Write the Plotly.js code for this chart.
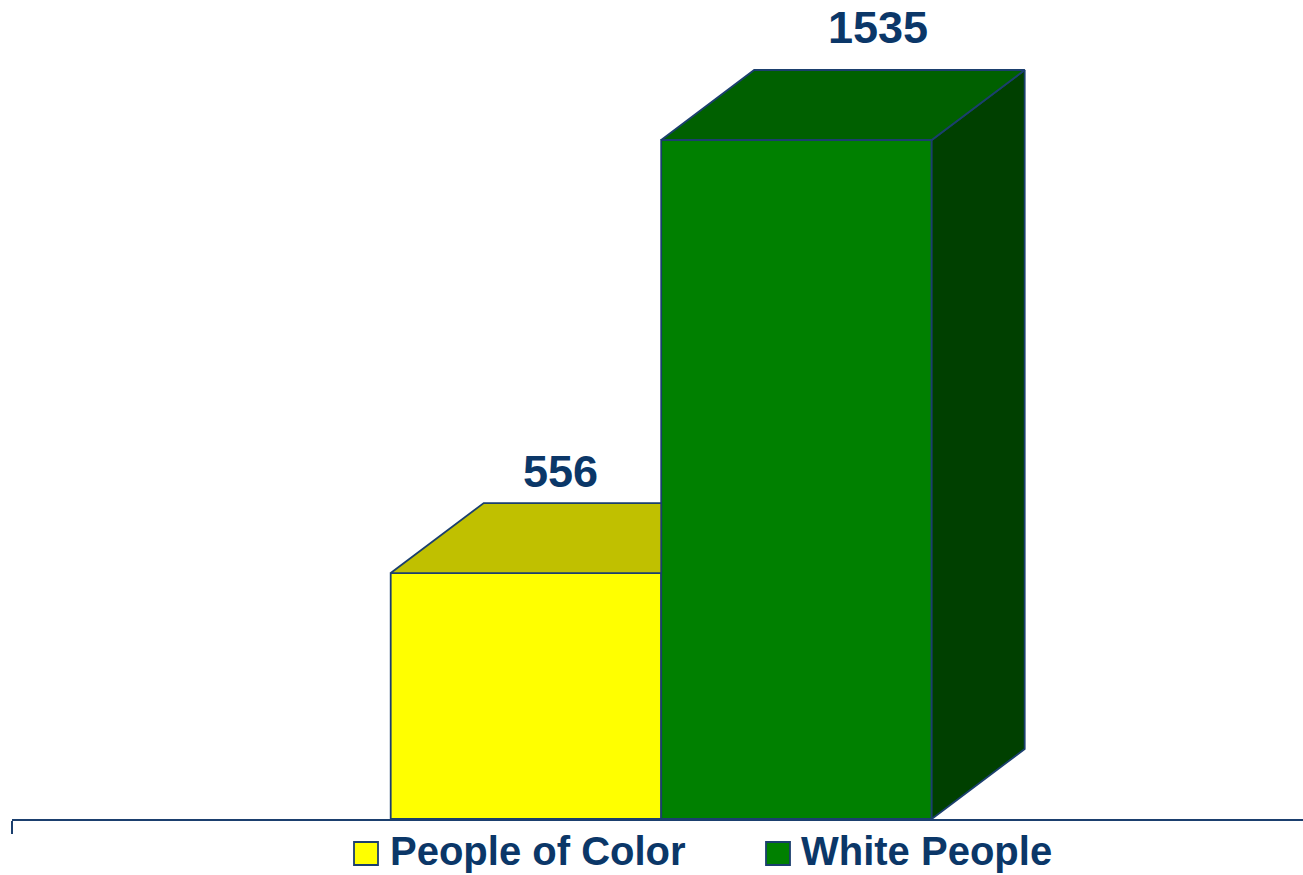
<!DOCTYPE html>
<html>
<head>
<meta charset="utf-8">
<script src="https://cdn.plot.ly/plotly-3.0.1.min.js"></script>
<style>html,body{margin:0;padding:0;background:#fff;}#chart{width:1303px;height:875px;}</style>
</head>
<body>
<div id="chart"></div>
<script>
// ---- data ----
const categories = ["People of Color", "White People"];
const values = [556, 1535];
const labels = ["556", "1535"];

// ---- styles ----
const frontColors = ["#FFFF00", "#008000"];
const topColors = ["#C0C000", "#006000"];
const sideColors = ["#A0A000", "#004000"];
const edge = "#1B3F6E";
const navy = "#0B3768";

// layout constants (px -> data)
const W = 1303, H = 875;
const mL = 12, mR = 0, mT = 0, mB = 56;
const plotW = W - mL - mR, plotH = H - mT - mB;
const barPx = 270.5;
const xStart = -1.9;
const xEnd = xStart + plotW / barPx;
const yPerPx = 1535 / 679;
const yEnd = plotH * yPerPx;
const dx = 93 / barPx;
const dy = 70 * yPerPx;

const xs = categories.map((c, i) => i);
const traces = [];

// front faces as bars
categories.forEach((c, i) => {
  traces.push({
    type: "bar", x: [xs[i]], y: [values[i]], width: 1, name: c,
    marker: {color: frontColors[i], line: {color: edge, width: 1.8}},
    showlegend: false, hoverinfo: "x+y"
  });
});

// top and side faces
categories.forEach((c, i) => {
  const x0 = xs[i] - 0.5, x1 = xs[i] + 0.5, v = values[i];
  const nextTaller = i < categories.length - 1 && values[i + 1] >= v + dy;
  let topX, topY;
  if (nextTaller) {
    topX = [x0, x1, x1, x0 + dx, x0];
    topY = [v, v, v + dy, v + dy, v];
  } else {
    topX = [x0, x1, x1 + dx, x0 + dx, x0];
    topY = [v, v, v + dy, v + dy, v];
    traces.push({
      type: "scatter", mode: "lines", fill: "toself",
      x: [x1, x1 + dx, x1 + dx, x1, x1], y: [0, dy, v + dy, v, 0],
      fillcolor: sideColors[i], line: {color: edge, width: 1.8},
      showlegend: false, hoverinfo: "skip"
    });
  }
  traces.push({
    type: "scatter", mode: "lines", fill: "toself",
    x: topX, y: topY,
    fillcolor: topColors[i], line: {color: edge, width: 1.8},
    showlegend: false, hoverinfo: "skip"
  });
});

// value labels
const labelXShift = [34.5, 82];
const labelYShift = [31.5, 42.5];
const annotations = categories.map((c, i) => ({
  x: xs[i], y: values[i] + dy, xref: "x", yref: "y",
  text: "<b>" + labels[i] + "</b>", showarrow: false,
  xanchor: "center", yanchor: "middle",
  xshift: labelXShift[i], yshift: labelYShift[i],
  font: {family: "Liberation Sans, Arial, sans-serif", size: 45, color: navy}
}));

// custom legend
const legSqPx = [354, 766];
const legTxtPx = [389, 800];
const shapes = [];
categories.forEach((c, i) => {
  shapes.push({
    type: "rect", xref: "paper", yref: "paper",
    x0: (legSqPx[i] - mL) / plotW, x1: (legSqPx[i] + 24 - mL) / plotW,
    y0: (plotH - 842) / plotH, y1: (plotH - 865) / plotH,
    fillcolor: frontColors[i], line: {color: edge, width: 1.8}
  });
  annotations.push({
    x: (legTxtPx[i] - mL) / plotW, y: (plotH - 851) / plotH,
    xref: "paper", yref: "paper", xanchor: "left", yanchor: "middle",
    text: "<b>" + c + "</b>", showarrow: false, borderpad: 0,
    font: {family: "Liberation Sans, Arial, sans-serif", size: 40, color: navy}
  });
});

const layout = {
  width: W, height: H,
  margin: {l: mL, r: mR, t: mT, b: mB, pad: 0},
  paper_bgcolor: "#fff", plot_bgcolor: "#fff",
  showlegend: false, bargap: 0,
  xaxis: {
    range: [xStart, xEnd], showgrid: false, zeroline: false,
    showline: true, linecolor: edge, linewidth: 2,
    tickvals: [xStart], ticks: "outside", ticklen: 13, tickwidth: 2, tickcolor: edge,
    showticklabels: false, fixedrange: true
  },
  yaxis: {
    range: [0, yEnd], visible: false, showgrid: false, zeroline: false, fixedrange: true
  },
  annotations: annotations,
  shapes: shapes
};

Plotly.newPlot("chart", traces, layout, {displayModeBar: false, staticPlot: true});
</script>
</body>
</html>
